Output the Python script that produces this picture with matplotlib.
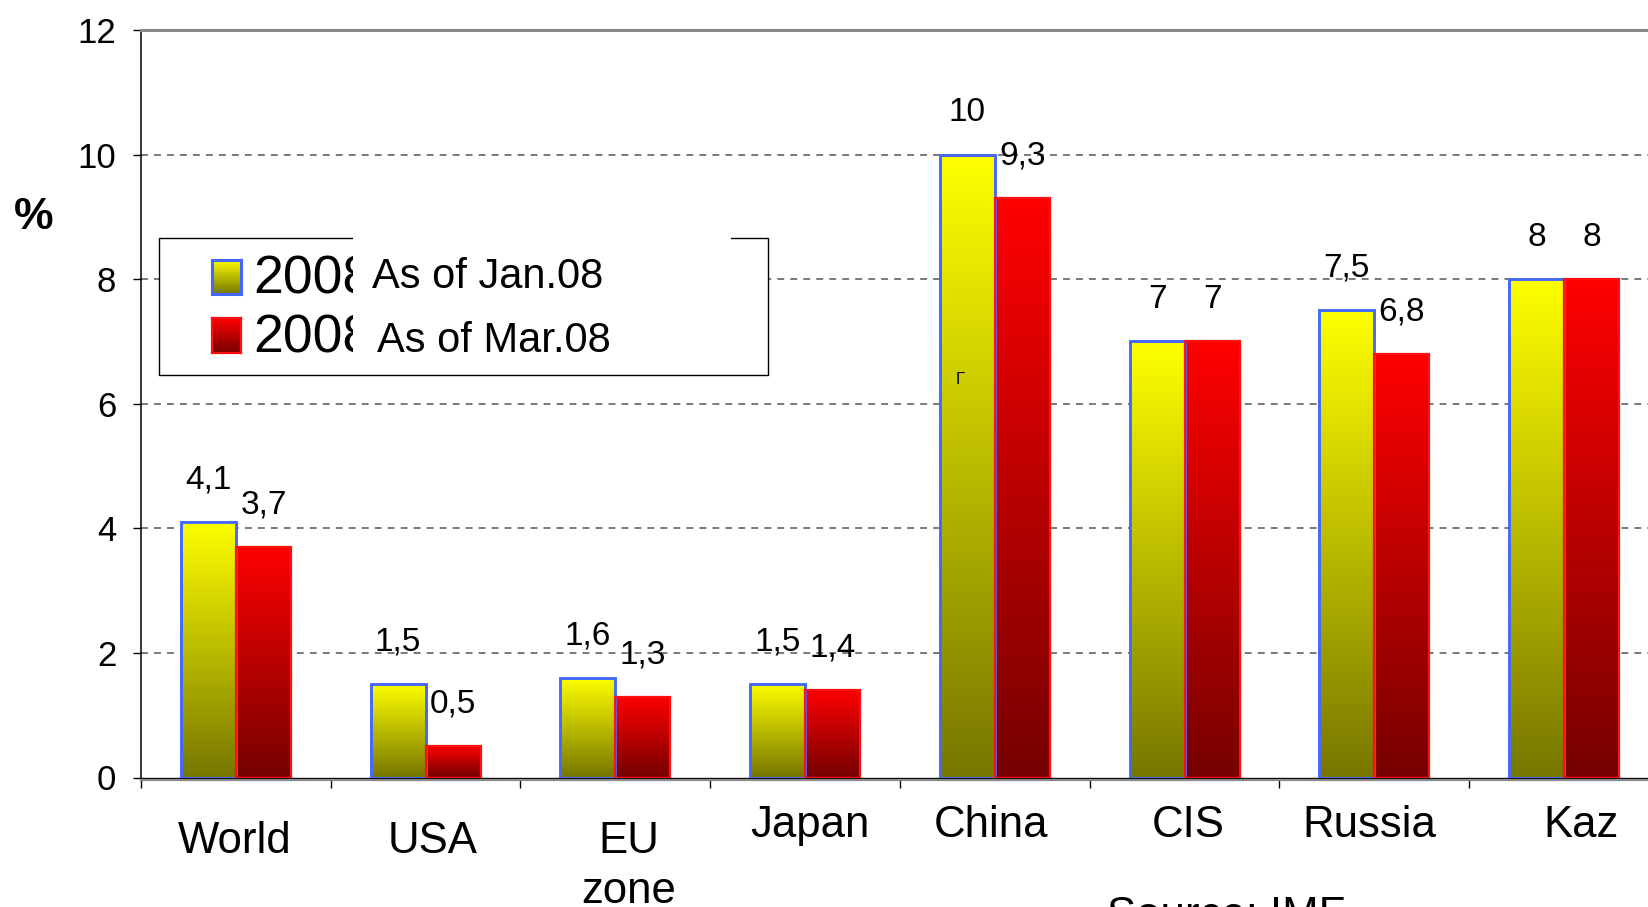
import matplotlib
matplotlib.use('Agg')
import matplotlib.pyplot as plt
import numpy as np
from matplotlib.patches import Rectangle
from matplotlib import transforms

plt.rcParams["font.family"] = ['Liberation Sans', 'DejaVu Sans']

# data (IMF growth forecasts for 2008, %)
categories = ['World', 'USA', 'EU\nzone', 'Japan', 'China', 'CIS', 'Russia', 'Kaz']
jan08 = [4.1, 1.5, 1.6, 1.5, 10, 7, 7.5, 8]
mar08 = [3.7, 0.5, 1.3, 1.4, 9.3, 7, 6.8, 8]
series_names = ['As of Jan.08', 'As of Mar.08']
legend_year = '2008'
yticks = [0, 2, 4, 6, 8, 10, 12]
source_note = 'Source: IMF'

# layout (figure pixels)
W, H = 1649, 907
label_base = [853, 853, 853, 837, 837, 837, 837, 837]
label_dx = [-1, 7, 13, 5, -4, 4, -5, 17]


def fx(x):
    return x / W


def fy(y):
    return 1 - y / H


def frect(x0, y0, x1, y1):
    return [fx(x0), fy(y1), (x1 - x0) / W, (y1 - y0) / H]


def grad(top, bottom, n=256):
    t = np.linspace(0, 1, n)[:, None, None]
    top = np.array(matplotlib.colors.to_rgb(top))
    bottom = np.array(matplotlib.colors.to_rgb(bottom))
    return top * (1 - t) + bottom * t


yellow_grad = grad('#ffff00', '#777700')
red_grad = grad('#ff0000', '#760000')
blue_edge = '#4468ff'
red_edge = '#ff1010'

fig = plt.figure(figsize=(W / 100, H / 100), dpi=100)
ax = fig.add_axes([fx(141), fy(777.5), (1659 - 141) / W, (777.5 - 30) / H])

w = 0.29
for i, (a, b) in enumerate(zip(jan08, mar08)):
    c = i + 0.5
    ax.imshow(yellow_grad, extent=(c - w, c, 0, a), aspect='auto', zorder=2, interpolation='bilinear')
    ax.imshow(red_grad, extent=(c, c + w, 0, b), aspect='auto', zorder=2, interpolation='bilinear')
ax.bar([i + 0.5 - w for i in range(len(jan08))], jan08, width=w, align='edge',
       fill=False, edgecolor=blue_edge, linewidth=2.1, zorder=3)
ax.bar([i + 0.5 for i in range(len(mar08))], mar08, width=w, align='edge',
       fill=False, edgecolor=red_edge, linewidth=1.6, zorder=3)

for i, (a, b) in enumerate(zip(jan08, mar08)):
    c = i + 0.5
    for x, v in ((c - w / 2, a), (c + w / 2, b)):
        ax.annotate(f'{v:g}'.replace('.', ','), xy=(x, v), xytext=(0, 33.5),
                    textcoords='offset pixels', ha='center', va='baseline', fontsize=24)

ax.set_xlim(0, 8)
ax.set_ylim(0, 12)
ax.set_yticks(yticks)
ax.set_xticks(range(9))
ax.set_xticklabels([])
ax.tick_params(axis='y', labelsize=25, length=5.8, width=1, pad=12)
ax.tick_params(axis='x', length=7.5, width=1)
for gy in yticks[1:-1]:
    ax.axhline(gy, color='#555555', linestyle=(0, (4.5, 4)), linewidth=1.1, zorder=0)
ax.spines['right'].set_visible(False)
ax.spines['top'].set_color('#888888')
ax.spines['top'].set_linewidth(2.2)
ax.spines['left'].set_linewidth(1.1)
ax.spines['bottom'].set_linewidth(1.0)
shadow = transforms.offset_copy(ax.transData, fig=fig, x=0, y=-2, units='dots')
ax.plot([0, 8], [0, 0], color='#8a8a8a', lw=1.6, transform=shadow, clip_on=False, zorder=4)

# category labels under the axis
lab_tr = transforms.blended_transform_factory(ax.transData, fig.transFigure)
for i, name in enumerate(categories):
    for k, line in enumerate(name.split('\n')):
        ax.text(i + 0.5 + label_dx[i] / 189.75, fy(label_base[i] + 50 * k), line,
                transform=lab_tr, ha='center', va='baseline', fontsize=31.5, clip_on=False)

fig.text(fx(1226), fy(928), source_note, ha='center', va='baseline', fontsize=31.5)
fig.text(fx(34), fy(229), '%', ha='center', va='baseline', fontsize=32, fontweight='bold')
fig.text(fx(960), fy(384), 'Γ', ha='center', va='baseline', fontsize=12, zorder=5)

# legend drawn by hand, as in the original slide
box = Rectangle((fx(159), fy(375)), (768 - 159) / W, (375 - 237.7) / H,
                transform=fig.transFigure, fc='white', ec='black', lw=1.0, zorder=10)
fig.add_artist(box)
sw_rows = [(260, 294.3, yellow_grad, blue_edge, 2.2), (318.3, 353.3, red_grad, red_edge, 1.6)]
for y0, y1, g, ec, lw in sw_rows:
    sw = fig.add_axes(frect(211.7, y0, 240.7, y1))
    sw.imshow(g, aspect='auto', extent=(0, 1, 0, 1), interpolation='bilinear')
    sw.set_xticks([])
    sw.set_yticks([])
    for s in sw.spines.values():
        s.set_edgecolor(ec)
        s.set_linewidth(lw)
    sw.set_zorder(11)
fig.text(fx(253), fy(293.3), legend_year, fontsize=38.5, va='baseline', zorder=12)
fig.text(fx(253), fy(352.3), legend_year, fontsize=38.5, va='baseline', zorder=12)
cover = Rectangle((fx(353), fy(370)), (731 - 353) / W, (370 - 230) / H,
                  transform=fig.transFigure, fc='white', ec='none', zorder=13)
fig.add_artist(cover)
fig.text(fx(371.7), fy(288.3), series_names[0], fontsize=30, va='baseline', zorder=14)
fig.text(fx(376.7), fy(351.7), series_names[1], fontsize=30, va='baseline', zorder=14)

plt.savefig('out.png', dpi=100)
